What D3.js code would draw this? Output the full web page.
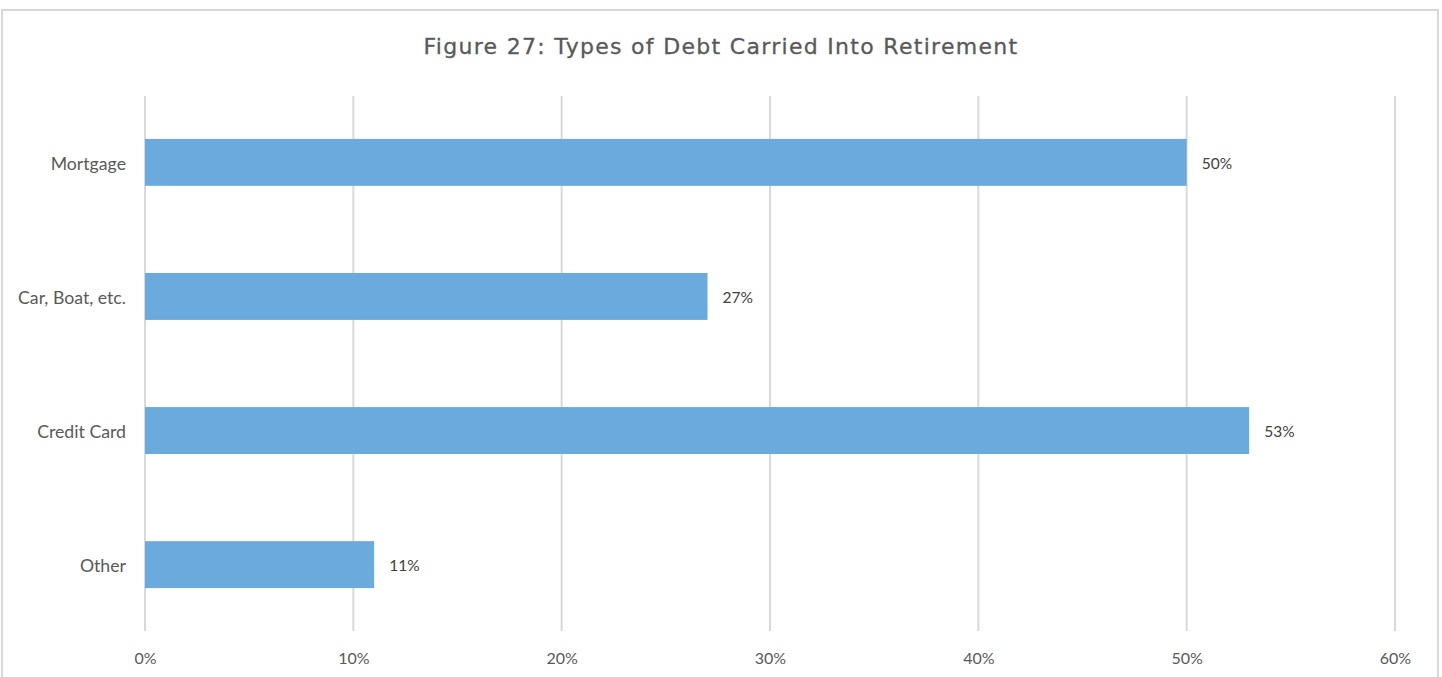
<!DOCTYPE html>
<html>
<head>
<meta charset="utf-8">
<script src="https://cdn.jsdelivr.net/npm/d3@7"></script>
<style>
  html, body { margin: 0; padding: 0; background: #fff; }
  svg { display: block; }
</style>
</head>
<body>
<svg id="chart" width="1442" height="677"></svg>
<script>
// Debt types and share of retirees carrying each
const categories = ["Mortgage", "Car, Boat, etc.", "Credit Card", "Other"];
const values = [0.50, 0.27, 0.53, 0.11];
const tickValues = [0, 0.1, 0.2, 0.3, 0.4, 0.5, 0.6];
const title = "Figure 27: Types of Debt Carried Into Retirement";

const svg = d3.select("#chart");

// outer frame
svg.append("rect")
  .attr("x", 2).attr("y", 10)
  .attr("width", 1436).attr("height", 680)
  .attr("fill", "#fff")
  .attr("stroke", "#d9d9d9").attr("stroke-width", 2);

const plot = { left: 145, right: 1395, top: 96, bottom: 631 };

const x = d3.scaleLinear().domain([0, 0.6]).range([plot.left, plot.right]);
const y = d3.scaleBand().domain(categories)
  .range([plot.top, plot.bottom])
  .paddingInner(0.65).paddingOuter(0.32);

const labelFont = "Lato, 'Open Sans', sans-serif";

// title
svg.append("text")
  .attr("x", 721).attr("y", 54)
  .attr("text-anchor", "middle")
  .attr("font-family", "'DejaVu Sans', sans-serif")
  .attr("font-size", 22)
  .attr("letter-spacing", 1.3)
  .attr("fill", "#595959")
  .attr("stroke", "#595959")
  .attr("stroke-width", 0.3)
  .text(title);

// vertical gridlines
svg.append("g").selectAll("line")
  .data(tickValues)
  .join("line")
  .attr("x1", d => x(d)).attr("x2", d => x(d))
  .attr("y1", plot.top).attr("y2", plot.bottom)
  .attr("stroke", "#d9d9d9").attr("stroke-width", 2);

// x axis labels
const xAxis = d3.axisBottom(x).tickValues(tickValues)
  .tickFormat(d3.format(".0%")).tickSize(0).tickPadding(0);
const gx = svg.append("g")
  .attr("transform", `translate(0,${plot.bottom + 22})`)
  .call(xAxis);
gx.select(".domain").remove();
gx.selectAll("text")
  .attr("font-family", labelFont)
  .attr("font-size", 16)
  .attr("fill", "#595959");

// y axis labels
const yAxis = d3.axisLeft(y).tickSize(0).tickPadding(19);
const gy = svg.append("g")
  .attr("transform", `translate(${plot.left},0)`)
  .call(yAxis);
gy.select(".domain").remove();
gy.selectAll("text")
  .attr("font-family", labelFont)
  .attr("font-size", 17.7)
  .attr("dy", "0.42em")
  .attr("fill", "#595959");

// bars
svg.append("g").selectAll("rect")
  .data(categories)
  .join("rect")
  .attr("x", x(0))
  .attr("y", d => y(d))
  .attr("width", (d, i) => x(values[i]) - x(0))
  .attr("height", y.bandwidth())
  .attr("fill", "#6aaadd");

// value labels
svg.append("g").selectAll("text")
  .data(categories)
  .join("text")
  .attr("x", (d, i) => x(values[i]) + 15)
  .attr("y", d => y(d) + y.bandwidth() / 2)
  .attr("dy", "0.4em")
  .attr("font-family", labelFont)
  .attr("font-size", 15.5)
  .attr("fill", "#404040")
  .text((d, i) => d3.format(".0%")(values[i]));
</script>
</body>
</html>
